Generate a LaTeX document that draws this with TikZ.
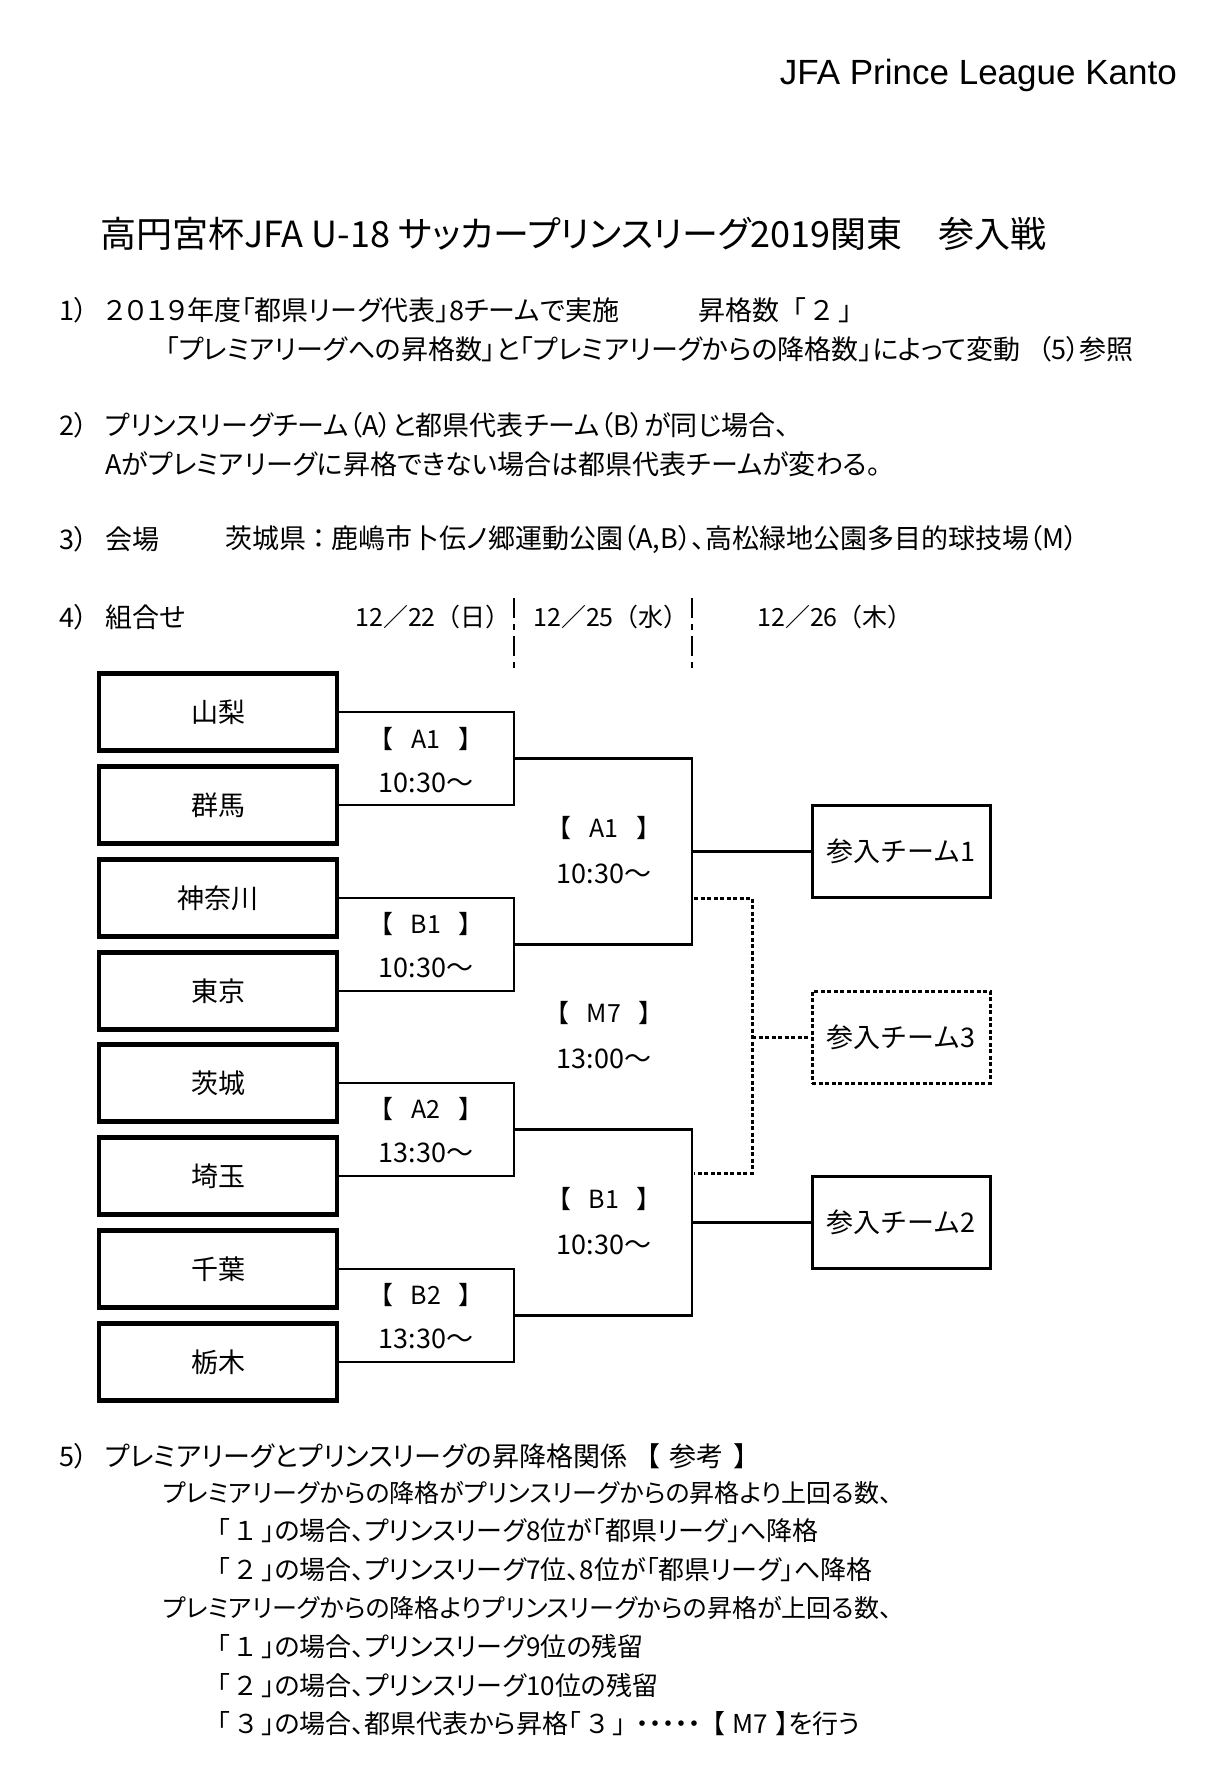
\documentclass[tikz,border=0pt]{standalone}
\usepackage{fontspec}
\setmainfont{Noto Sans CJK JP}[RawFeature=+palt]
\newfontfamily\jpmono{Noto Sans CJK JP}
\newfontfamily\latinsans{Liberation Sans}
\newcommand{\brk}[1]{【\hspace{0.7em}#1\hspace{0.7em}】}
\begin{document}
\begin{tikzpicture}[x=1pt,y=-1pt,
  txt/.style={anchor=west,inner sep=0pt,font=\fontsize{27}{32}\selectfont},
  small/.style={font=\fontsize{25}{30}\selectfont},
  mid/.style={font=\fontsize{26}{30}\selectfont},
  team/.style={draw,line width=4.5pt,minimum width=238pt,minimum height=77pt,inner sep=0pt,font=\fontsize{27}{32}\selectfont},
  entry/.style={draw,line width=3pt,minimum width=178pt,minimum height=92pt,inner sep=0pt,font=\jpmono\fontsize{27}{32}\selectfont},
  brkline/.style={line width=2.6pt},
  dsh/.style={line width=3pt,dash pattern=on 4pt off 2.5pt},
  divider/.style={line width=2.5pt,dash pattern=on 20pt off 6pt on 6pt off 6pt},
  lbl/.style={inner sep=0pt,font=\jpmono\fontsize{25}{30}\selectfont},
  tm/.style={inner sep=0pt,font=\jpmono\fontsize{27}{30}\selectfont},
  date/.style={inner sep=0pt,font=\jpmono\fontsize{25}{30}\selectfont}]
\useasboundingbox[fill=white] (0,0) rectangle (1219,1789);

% header
\node[anchor=east,inner sep=0pt,font=\latinsans\fontsize{35}{38}\selectfont] (hdr) at (1177,75) {JFA Prince League Kanto};
\node[anchor=west,inner sep=0pt,font=\fontsize{36}{40}\selectfont] (title) at (100,234) {高円宮杯JFA U-18 サッカープリンスリーグ2019関東　参入戦};

% section 1
\node[txt] (n1) at (59,310) {1）};
\node[txt] (l1a) at (105,310) {２０１９年度「都県リーグ代表」8チームで実施};
\node[txt] (l1b) at (698,310) {昇格数{\jpmono「\hspace{0.1em}２\hspace{0.1em}」}};
\node[txt] (l1c) at (165,349) {「プレミアリーグへの昇格数」と「プレミアリーグからの降格数」によって変動};
\node[txt,anchor=east] (l1d) at (1134,349) {（5）参照};

% section 2
\node[txt] (n2) at (59,425) {2）};
\node[txt] (l2a) at (105,425) {プリンスリーグチーム（A）と都県代表チーム（B）が同じ場合、};
\node[txt] (l2b) at (105,464) {Aがプレミアリーグに昇格できない場合は都県代表チームが変わる。};

% section 3
\node[txt] (n3) at (59,539) {3）};
\node[txt] (l3a) at (105,539) {会場};
\node[txt] (l3b) at (225,539) {茨城県 ： 鹿嶋市卜伝ノ郷運動公園（A,B）、高松緑地公園多目的球技場（M）};

% section 4
\node[txt] (n4) at (59,617) {4）};
\node[txt] (l4a) at (105,617) {組合せ};
\node[date] (d1) at (433,617) {12／22（日）};
\node[date] (d2) at (611,617) {12／25（水）};
\node[date] (d3) at (835,617) {12／26（木）};
\coordinate (v1t) at (514,598); \coordinate (v1b) at (514,672);
\coordinate (v2t) at (692,598); \coordinate (v2b) at (692,672);
\draw[divider] (v1t) -- (v1b);
\draw[divider] (v2t) -- (v2b);

% teams
\node[team] (t1) at (218,712) {山梨};
\node[team] (t2) at (218,805) {群馬};
\node[team] (t3) at (218,898) {神奈川};
\node[team] (t4) at (218,991) {東京};
\node[team] (t5) at (218,1083) {茨城};
\node[team] (t6) at (218,1176) {埼玉};
\node[team] (t7) at (218,1269) {千葉};
\node[team] (t8) at (218,1362) {栃木};

% first round
\coordinate (r1) at (514,758.5);
\coordinate (r2) at (514,944.5);
\coordinate (r3) at (514,1129.5);
\coordinate (r4) at (514,1315.5);
\draw[brkline] (t1.east) -| (r1) |- (t2.east);
\draw[brkline] (t3.east) -| (r2) |- (t4.east);
\draw[brkline] (t5.east) -| (r3) |- (t6.east);
\draw[brkline] (t7.east) -| (r4) |- (t8.east);
\node[lbl] (a1l) at (426,739) {\brk{A1}};
\node[tm] (a1t) at (426,783) {10:30〜};
\node[lbl] (b1l) at (426,924) {\brk{B1}};
\node[tm] (b1t) at (426,968) {10:30〜};
\node[lbl] (a2l) at (426,1109) {\brk{A2}};
\node[tm] (a2t) at (426,1153) {13:30〜};
\node[lbl] (b2l) at (426,1295) {\brk{B2}};
\node[tm] (b2t) at (426,1339) {13:30〜};

% second round
\coordinate (s1) at (692,851.5);
\coordinate (s2) at (692,1222.5);
\draw[brkline] (r1) -| (s1) |- (r2);
\draw[brkline] (r3) -| (s2) |- (r4);
\node[lbl] (sa1l) at (604,828) {\brk{A1}};
\node[tm] (sa1t) at (604,874) {10:30〜};
\node[lbl] (m7l) at (604,1013) {\brk{M7}};
\node[tm] (m7t) at (604,1059) {13:00〜};
\node[lbl] (sb1l) at (604,1199) {\brk{B1}};
\node[tm] (sb1t) at (604,1245) {10:30〜};

% entries
\node[entry] (e1) at (901,851.5) {参入チーム1};
\node[entry,dsh] (e3) at (901,1037) {参入チーム3};
\node[entry] (e2) at (901,1222.5) {参入チーム2};
\draw[brkline] (s1) -- (e1.west);
\draw[brkline] (s2) -- (e2.west);

% M7 dashed
\coordinate (ma) at (694,898);
\coordinate (mb) at (752,898);
\coordinate (mc) at (752,1173);
\coordinate (md) at (694,1173);
\coordinate (mm) at (752,1037);
\draw[dsh] (ma) -- (mb) -- (mc) -- (md);
\draw[dsh] (mm) -- (e3.west);

% section 5
\node[txt] (n5) at (59,1456) {5）};
\node[txt] (l5a) at (105,1456) {プレミアリーグとプリンスリーグの昇降格関係 {\jpmono【\hspace{0.35em}参考\hspace{0.35em}】}};
\node[txt,small] (l5b) at (163,1493) {プレミアリーグからの降格がプリンスリーグからの昇格より上回る数、};
\node[txt,mid] (l5c) at (217,1531) {「 １ 」の場合、プリンスリーグ8位が「都県リーグ」へ降格};
\node[txt,mid] (l5d) at (217,1570) {「 ２ 」の場合、プリンスリーグ7位、8位が「都県リーグ」へ降格};
\node[txt,small] (l5e) at (163,1608) {プレミアリーグからの降格よりプリンスリーグからの昇格が上回る数、};
\node[txt,mid] (l5f) at (217,1647) {「 １ 」の場合、プリンスリーグ9位の残留};
\node[txt,mid] (l5g) at (217,1686) {「 ２ 」の場合、プリンスリーグ10位の残留};
\node[txt,mid] (l5h) at (217,1724) {「 ３ 」の場合、都県代表から昇格「 ３ 」\hspace{0.4em}・・・・・\hspace{0.4em}【\hspace{0.3em}M7\hspace{0.3em}】を行う};
\end{tikzpicture}
\end{document}
